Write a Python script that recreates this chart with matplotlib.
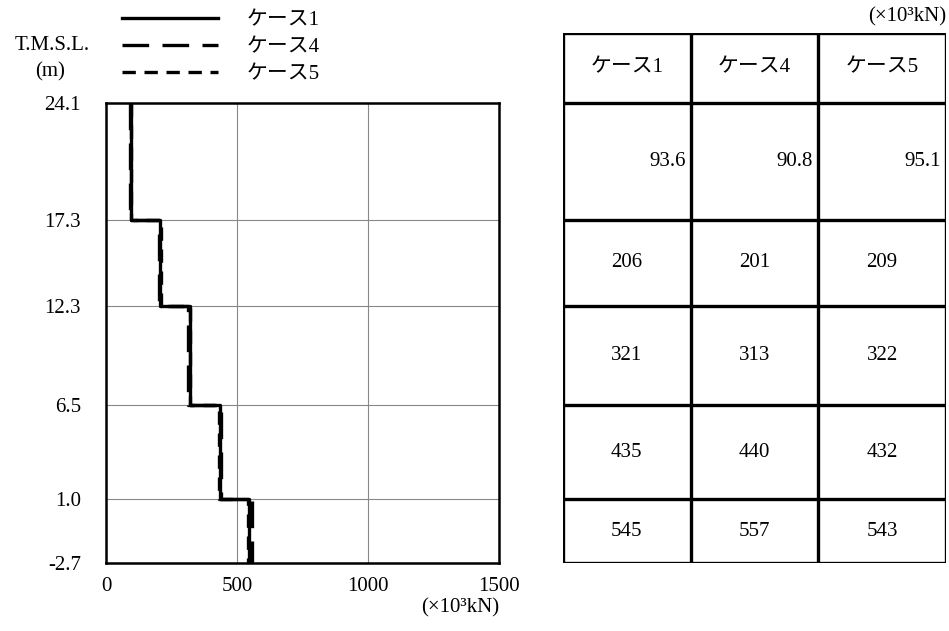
import numpy as np
import matplotlib
matplotlib.use("Agg")
import matplotlib.pyplot as plt

plt.rcParams['font.family'] = ['Liberation Serif', 'Noto Sans CJK JP']

# elevation boundaries (T.M.S.L., m) and shear force per level (x10^3 kN)
elev = [24.1, 17.3, 12.3, 6.5, 1.0, -2.7]
cases = ['ケース1', 'ケース4', 'ケース5']
case1 = [93.6, 206, 321, 435, 545]
case4 = [90.8, 201, 313, 440, 557]
case5 = [95.1, 209, 322, 432, 543]
cells = [['93.6', '90.8', '95.1'],
         ['206', '201', '209'],
         ['321', '313', '322'],
         ['435', '440', '432'],
         ['545', '557', '543']]
xticks = [0, 500, 1000, 1500]

fs = 15
fig = plt.figure(figsize=(9.49, 6.31), dpi=100)

# left: step plot
ax = fig.add_axes([106/949, 68/631, 393/949, 460/631])
y_pts = np.repeat(elev, 2)[1:-1]
styles = [dict(ls='-'), dict(ls=(0, (8, 4))), dict(ls=(0, (4, 2.6)))]
handles = []
for name, vals, st in zip(cases, [case1, case4, case5], styles):
    x_pts = np.repeat(vals, 2)
    h, = ax.plot(x_pts, y_pts, color='black', lw=2.4, **st)
    handles.append(h)

ax.set_xlim(0, 1500)
ax.set_ylim(elev[-1], elev[0])
ax.set_xticks(xticks)
ax.set_xticklabels([str(v) for v in xticks], fontsize=fs)
ax.set_yticks(elev)
ax.set_yticklabels([f'{v:.1f}' for v in elev], fontsize=fs)
ax.tick_params(axis='y', length=0, pad=18)
ax.tick_params(axis='x', length=0, pad=10)
ax.grid(True, color='#888888', lw=0.8)
for s in ax.spines.values():
    s.set_linewidth(1.8)

fig.text(499/949, 1 - 608/631, '(×10³kN)', fontsize=fs, ha='right', va='center')
fig.text(52/949, 1 - 46/631, 'T.M.S.L.', fontsize=fs, ha='center', va='center')
fig.text(50/949, 1 - 72/631, '(m)', fontsize=fs, ha='center', va='center')

fig.legend(handles, cases, loc='upper left', bbox_to_anchor=(122/949, 1 - 11/631),
           frameon=False, fontsize=fs, handlelength=4.6, handletextpad=1.4,
           labelspacing=0.35, borderpad=0, borderaxespad=0)

# right: table drawn on the same elevation scale
tax = fig.add_axes([563/949, 68/631, 383/949, 530/631])
top = elev[0] + (elev[0] - elev[-1]) * 70 / 460
tax.set_xlim(0, 3)
tax.set_ylim(elev[-1], top)
tax.axis('off')
lw = 2.4
for b in [top] + elev:
    tax.plot([0, 3], [b, b], color='black', lw=lw, solid_capstyle='projecting')
for c in range(4):
    tax.plot([c, c], [elev[-1], top], color='black', lw=lw, solid_capstyle='projecting')

for c, name in enumerate(cases):
    tax.text(c + 0.5, (top + elev[0]) / 2, name, fontsize=fs, ha='center', va='center')
for r, row in enumerate(cells):
    ymid = (elev[r] + elev[r + 1]) / 2
    for c, txt in enumerate(row):
        if r == 0:
            tax.text(c + 0.96, ymid, txt, fontsize=fs, ha='right', va='center')
        else:
            tax.text(c + 0.5, ymid, txt, fontsize=fs, ha='center', va='center')

fig.text(946/949, 1 - 17/631, '(×10³kN)', fontsize=fs, ha='right', va='center')

fig.savefig('out.png', dpi=100)
